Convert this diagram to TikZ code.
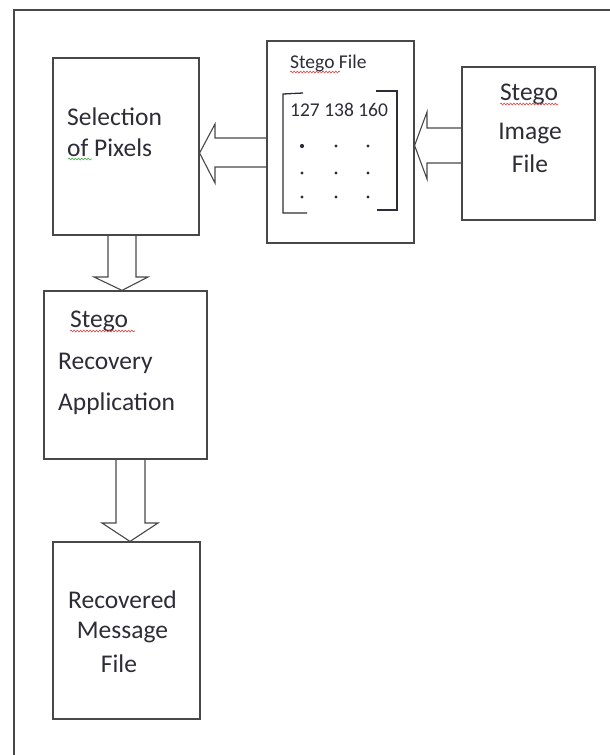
\documentclass[tikz,border=0pt]{standalone}
\usepackage{fontspec}
\setmainfont{Carlito}
\usetikzlibrary{decorations.pathmorphing}
\definecolor{ink}{RGB}{45,45,55}
\definecolor{edge}{RGB}{72,72,72}
\definecolor{spellred}{RGB}{220,70,70}
\definecolor{spellgreen}{RGB}{70,170,70}
\tikzset{
  box/.style={draw=edge, line width=1.2pt, fill=white, inner sep=0pt},
  label/.style={text=ink, inner sep=0pt, font=\fontsize{25.5}{30}\selectfont},
  small/.style={text=ink, inner sep=0pt, font=\fontsize{19.5}{23}\selectfont},
  blockarrow/.style={draw=edge, line width=1.1pt, line join=miter},
  squiggle/.style={line width=0.6pt, decorate,
    decoration={snake, amplitude=0.9pt, segment length=3.2pt}},
  bracket/.style={draw=ink, line width=1.3pt},
  pix/.style={fill=ink}
}
\begin{document}
\begin{tikzpicture}[x=1pt,y=-1pt]
\useasboundingbox (0,0) rectangle (610,755);

% page frame (top and left edges)
\draw[edge, line width=1.5pt] (610,10) -- (14,10) -- (14,755);

% boxes
\node[box, minimum width=146pt, minimum height=177pt] (sel)   at (126,146.5) {};
\node[box, minimum width=147pt, minimum height=202pt] (sfile) at (340.5,142) {};
\node[box, minimum width=133pt, minimum height=153pt] (simg)  at (528.5,143.5) {};
\node[box, minimum width=163pt, minimum height=168pt] (rec)   at (125.5,375) {};
\node[box, minimum width=147pt, minimum height=177pt] (msg)   at (126.5,630.5) {};

% block arrows
\draw[blockarrow] (simg.west |- 0,128) -- (427,128) -- (427,112)
  -- (sfile.east |- 0,145.5) -- (427,179) -- (427,163) -- (simg.west |- 0,163);
\draw[blockarrow] (sfile.west |- 0,138) -- (215,138) -- (215,124)
  -- (sel.east |- 0,153) -- (215,183) -- (215,167) -- (sfile.west |- 0,167);
\draw[blockarrow] (108,0 |- sel.south) -- (108,277) -- (94,277)
  -- (122,0 |- rec.north) -- (148,277) -- (136,277) -- (136,0 |- sel.south);
\draw[blockarrow] (116,0 |- rec.south) -- (116,523) -- (102,523)
  -- (130,0 |- msg.north) -- (158,523) -- (145,523) -- (145,0 |- rec.south);

% texts
\node[label, anchor=base west] (selA) at (67,125) {Selection};
\node[label, anchor=base west] (selB) at (67,156) {of Pixels};

\node[label, anchor=base] (imgA) at (529,100) {Stego};
\node[label, anchor=base] (imgB) at (530,139) {Image};
\node[label, anchor=base] (imgC) at (530,172) {File};

\node[label, anchor=base west] (recA) at (70,327) {Stego};
\node[label, anchor=base west] (recB) at (58,369) {Recovery};
\node[label, anchor=base west] (recC) at (58,410) {Application};

\node[label, anchor=base] (msgA) at (122.5,608) {Recovered};
\node[label, anchor=base] (msgB) at (122.5,638) {Message};
\node[label, anchor=base] (msgC) at (119,672) {File};

\node[small, anchor=base west] (sfT) at (290,68) {Stego File};
\node[small, anchor=base west] (sfN) at (290,116) {127 138 160};

% matrix brackets and dots
\draw[bracket] (303,93) -- (283,94) -- (283,213) -- (307,213);
\draw[bracket] (376,91) -- (397,91) -- (397,210) -- (377,210);
\fill[pix] (302,146) circle (2.1pt);
\foreach \x/\y in {336/146,368/146,302/173,336/173,368/173,302/197,336/197,368/197}
  \fill[pix] (\x,\y) circle (1.7pt);

% spelling marks
\draw[spellred, squiggle]   (500,104) -- (558,104);
\draw[spellred, squiggle]   (70,331) -- (135,331);
\draw[spellred, squiggle]   (290,72) -- (340,72);
\draw[spellgreen, squiggle] (68,159) -- (92,159);
\end{tikzpicture}
\end{document}
